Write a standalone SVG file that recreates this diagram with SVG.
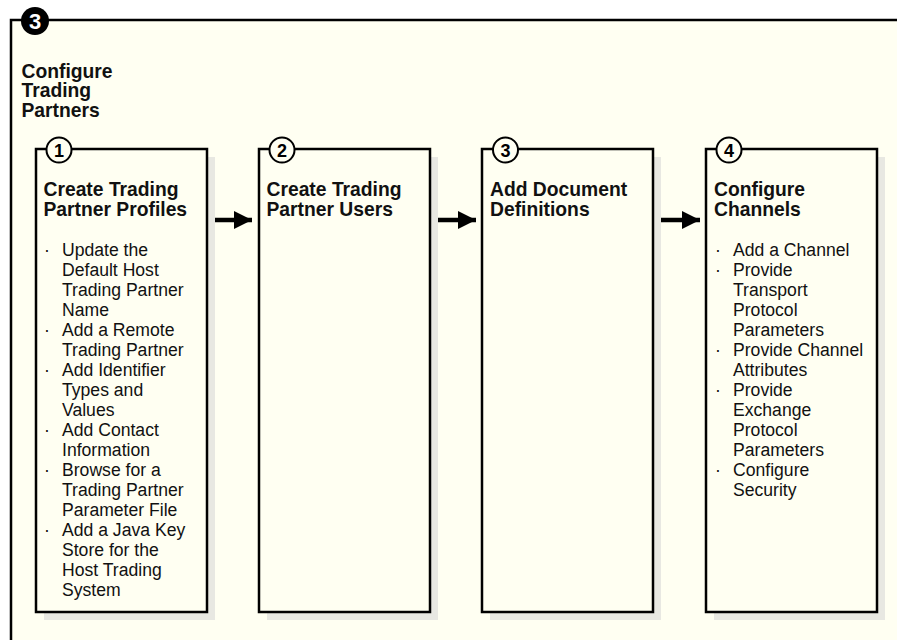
<svg xmlns="http://www.w3.org/2000/svg" width="897" height="640" viewBox="0 0 897 640">
<defs>
<style>
.frame{fill:#FFFFF2;stroke:#000;stroke-width:2.5}
.box{fill:#FFFFF2;stroke:#000;stroke-width:2.5}
.shadow{fill:#E8E8E2;stroke:none}
.num{fill:#FFFFF2;stroke:#000;stroke-width:2}
.numt{font-family:"Liberation Sans",Arial,sans-serif;font-weight:bold;font-size:18px;fill:#000;text-anchor:middle}
.title{font-family:"Liberation Sans",Arial,sans-serif;font-weight:bold;font-size:19.3px;fill:#111}
.item{font-family:"Liberation Sans",Arial,sans-serif;font-size:17.6px;fill:#111}
.conn{stroke:#000;stroke-width:4.5;fill:none}
</style>
<marker id="ah" markerUnits="userSpaceOnUse" markerWidth="20" markerHeight="20" viewBox="0 0 20 20" refX="18" refY="10" orient="auto">
<path d="M0,1 L18,10 L0,19 Z" fill="#000"/>
</marker>
</defs>
<rect x="0" y="0" width="897" height="640" fill="#FFFFFF"/>
<g id="stage3">
<path d="M11,645 V20 H900 V645 Z" class="frame"/>
<circle cx="35" cy="21" r="14" fill="#000"/>
<text x="35" y="29" font-family="Liberation Sans,Arial,sans-serif" font-weight="bold" font-size="22px" fill="#FFFFFF" text-anchor="middle">3</text>
<text class="title"><tspan x="21.5" y="77.7">Configure</tspan><tspan x="21.5" y="97.4">Trading</tspan><tspan x="21.5" y="117.1">Partners</tspan></text>
</g>
<g id="connectors">
<line x1="207" y1="220" x2="252" y2="220" class="conn" marker-end="url(#ah)"/>
<line x1="430" y1="220" x2="476" y2="220" class="conn" marker-end="url(#ah)"/>
<line x1="653" y1="220" x2="700" y2="220" class="conn" marker-end="url(#ah)"/>
</g>
<g id="step1">
<rect x="44" y="157" width="171" height="463" class="shadow"/>
<rect x="36" y="149" width="171" height="463" class="box"/>
<circle cx="59" cy="150" r="12.5" class="num"/>
<text x="59" y="156.5" class="numt">1</text>
<text class="title"><tspan x="43.5" y="196">Create Trading</tspan><tspan x="43.5" y="215.7">Partner Profiles</tspan></text>
<text class="item">
<tspan x="44" y="256">·</tspan><tspan x="62" y="256">Update the</tspan>
<tspan x="62" y="276">Default Host</tspan>
<tspan x="62" y="296">Trading Partner</tspan>
<tspan x="62" y="316">Name</tspan>
<tspan x="44" y="336">·</tspan><tspan x="62" y="336">Add a Remote</tspan>
<tspan x="62" y="356">Trading Partner</tspan>
<tspan x="44" y="376">·</tspan><tspan x="62" y="376">Add Identifier</tspan>
<tspan x="62" y="396">Types and</tspan>
<tspan x="62" y="416">Values</tspan>
<tspan x="44" y="436">·</tspan><tspan x="62" y="436">Add Contact</tspan>
<tspan x="62" y="456">Information</tspan>
<tspan x="44" y="476">·</tspan><tspan x="62" y="476">Browse for a</tspan>
<tspan x="62" y="496">Trading Partner</tspan>
<tspan x="62" y="516">Parameter File</tspan>
<tspan x="44" y="536">·</tspan><tspan x="62" y="536">Add a Java Key</tspan>
<tspan x="62" y="556">Store for the</tspan>
<tspan x="62" y="576">Host Trading</tspan>
<tspan x="62" y="596">System</tspan>
</text>
</g>
<g id="step2">
<rect x="267" y="157" width="171" height="463" class="shadow"/>
<rect x="259" y="149" width="171" height="463" class="box"/>
<circle cx="282" cy="150" r="12.5" class="num"/>
<text x="282" y="156.5" class="numt">2</text>
<text class="title"><tspan x="266.5" y="196">Create Trading</tspan><tspan x="266.5" y="215.7">Partner Users</tspan></text>
</g>
<g id="step3">
<rect x="490" y="157" width="171" height="463" class="shadow"/>
<rect x="482" y="149" width="171" height="463" class="box"/>
<circle cx="505.5" cy="150" r="12.5" class="num"/>
<text x="505.5" y="156.5" class="numt">3</text>
<text class="title"><tspan x="490" y="196">Add Document</tspan><tspan x="490" y="215.7">Definitions</tspan></text>
</g>
<g id="step4">
<rect x="714" y="157" width="171" height="463" class="shadow"/>
<rect x="706" y="149" width="171" height="463" class="box"/>
<circle cx="729" cy="150" r="12.5" class="num"/>
<text x="729" y="156.5" class="numt">4</text>
<text class="title"><tspan x="714" y="196">Configure</tspan><tspan x="714" y="215.7">Channels</tspan></text>
<text class="item">
<tspan x="715" y="256">·</tspan><tspan x="733" y="256">Add a Channel</tspan>
<tspan x="715" y="276">·</tspan><tspan x="733" y="276">Provide</tspan>
<tspan x="733" y="296">Transport</tspan>
<tspan x="733" y="316">Protocol</tspan>
<tspan x="733" y="336">Parameters</tspan>
<tspan x="715" y="356">·</tspan><tspan x="733" y="356">Provide Channel</tspan>
<tspan x="733" y="376">Attributes</tspan>
<tspan x="715" y="396">·</tspan><tspan x="733" y="396">Provide</tspan>
<tspan x="733" y="416">Exchange</tspan>
<tspan x="733" y="436">Protocol</tspan>
<tspan x="733" y="456">Parameters</tspan>
<tspan x="715" y="476">·</tspan><tspan x="733" y="476">Configure</tspan>
<tspan x="733" y="496">Security</tspan>
</text>
</g>
</svg>
